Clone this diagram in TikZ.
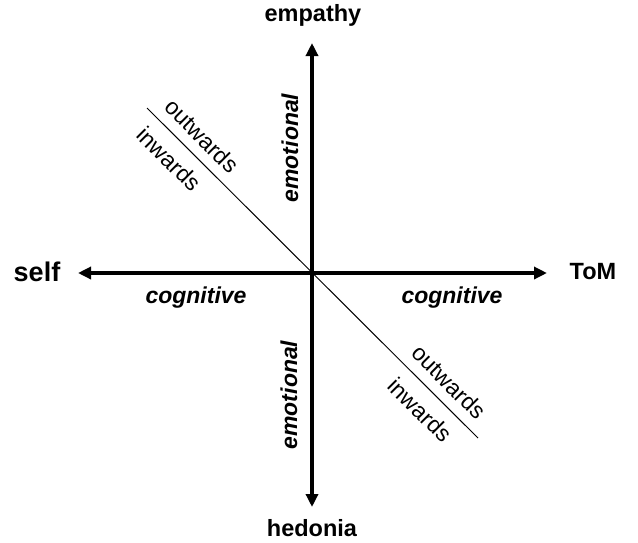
\documentclass[tikz,border=0pt]{standalone}
\usepackage{fontspec}
\setmainfont{Liberation Sans}
\usetikzlibrary{arrows.meta}
\tikzset{
  axis/.style={line width=4pt,{Triangle[length=13pt,width=12pt]}-{Triangle[length=13pt,width=12pt]}},
  pole/.style={font=\fontsize{23.5}{25}\selectfont\bfseries},
  kind/.style={font=\fontsize{23}{25}\selectfont\bfseries\itshape},
  dir/.style={font=\fontsize{23}{25}\selectfont,rotate=-45}
}
\begin{document}
\begin{tikzpicture}[x=1pt,y=-1pt]
\useasboundingbox (0,0) rectangle (638,542);
\coordinate (O) at (312,273); %centre
\coordinate (top) at (312,43);
\coordinate (bot) at (312,507);
\coordinate (lft) at (78,273);
\coordinate (rgt) at (547,273);
\coordinate (d1) at (147,108); %diagonal ends
\coordinate (d2) at (478,438);

\draw[axis] (bot)--(top); %yaxis
\draw[axis] (lft)--(rgt); %xaxis
\draw[line width=1pt] (d1)--(d2); %diagonal

\node[pole] (empathy) at (313,15) {empathy};
\node[pole] (hedonia) at (312,528) {hedonia};
\node[pole,font=\fontsize{27}{29}\selectfont\bfseries] (self) at (37,272) {self};
\node[pole] (tom) at (593,272) {ToM};

\node[kind,rotate=90] (emoUp) at (290,148) {emotional};
\node[kind,rotate=90] (emoDn) at (289,395) {emotional};
\node[kind] (cogL) at (196,298) {cognitive};
\node[kind] (cogR) at (452,298) {cognitive};

\node[dir] (outUp) at (202,136) {outwards};
\node[dir] (inUp) at (169,159) {inwards};
\node[dir] (outDn) at (449,382) {outwards};
\node[dir] (inDn) at (420,410) {inwards};
\end{tikzpicture}
\end{document}
